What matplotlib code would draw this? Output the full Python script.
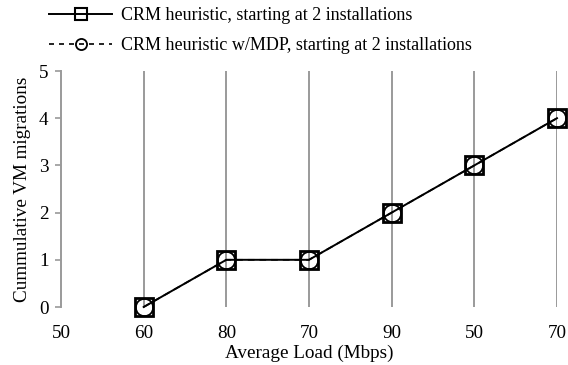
import numpy as np
import matplotlib
matplotlib.use('Agg')
import matplotlib.pyplot as plt
from matplotlib.lines import Line2D

plt.rcParams['font.family'] = ['Liberation Serif', 'DejaVu Serif']

LOAD_LABELS = ['50', '60', '80', '70', '90', '50', '70']
CRM_X = [1, 2, 3, 4, 5, 6]
CRM_MIGR = [0, 1, 1, 2, 3, 4]
MDP_X = [1, 2, 3, 4, 5, 6]
MDP_MIGR = [0, 1, 1, 2, 3, 4]

C_GRID = '#9a9a9a'
FS = 13.8
FS_LEG = 13

fig = plt.figure(figsize=(5.68, 3.65), dpi=100)
ax = fig.add_axes([61 / 568, 58 / 365, (557 - 61) / 568, (307 - 71) / 365])

ax.vlines(range(1, len(LOAD_LABELS)), 0, 5, color=C_GRID, lw=1.4, zorder=1)

ax.plot(CRM_X, CRM_MIGR, color='black', lw=1.4, marker='s', ms=13,
        mfc='none', mec='black', mew=2.0, zorder=3, clip_on=False)
ax.plot(MDP_X, MDP_MIGR, color='black', lw=1.2, ls=(0, (4, 3)), marker='o',
        ms=12.5, mfc='none', mec='black', mew=1.3, zorder=4, clip_on=False)

ax.set_xlim(0, len(LOAD_LABELS) - 1)
ax.set_ylim(0, 5)
ax.set_xticks(range(len(LOAD_LABELS)))
ax.set_xticklabels(LOAD_LABELS)
ax.set_yticks(range(6))
for s in ('top', 'right', 'bottom'):
    ax.spines[s].set_visible(False)
ax.spines['left'].set_color(C_GRID)
ax.spines['left'].set_linewidth(1.4)
ax.tick_params(axis='x', length=0, pad=13, labelsize=FS)
ax.tick_params(axis='y', length=4, color=C_GRID, width=1.2, pad=5, labelsize=FS)
ax.set_xlabel('Average Load (Mbps)', fontsize=FS, labelpad=2)
ax.set_ylabel('Cummulative VM migrations', fontsize=FS, labelpad=6)

handles = [
    Line2D([0], [0], color='black', lw=1.4, marker='s', ms=8, mfc='none',
           mec='black', mew=1.5,
           label='CRM heuristic, starting at 2 installations'),
    Line2D([0], [0], color='black', lw=1.2, ls=(0, (3, 3)), marker='o', ms=8,
           mfc='none', mec='black', mew=1.3,
           label='CRM heuristic w/MDP, starting at 2 installations'),
]
fig.legend(handles=handles, loc='upper left', bbox_to_anchor=(42 / 568, 1.0),
           frameon=False, fontsize=FS_LEG, handlelength=3.5, labelspacing=0.7,
           handletextpad=0.5, borderaxespad=0.0)

fig.savefig('out.png', dpi=100)
